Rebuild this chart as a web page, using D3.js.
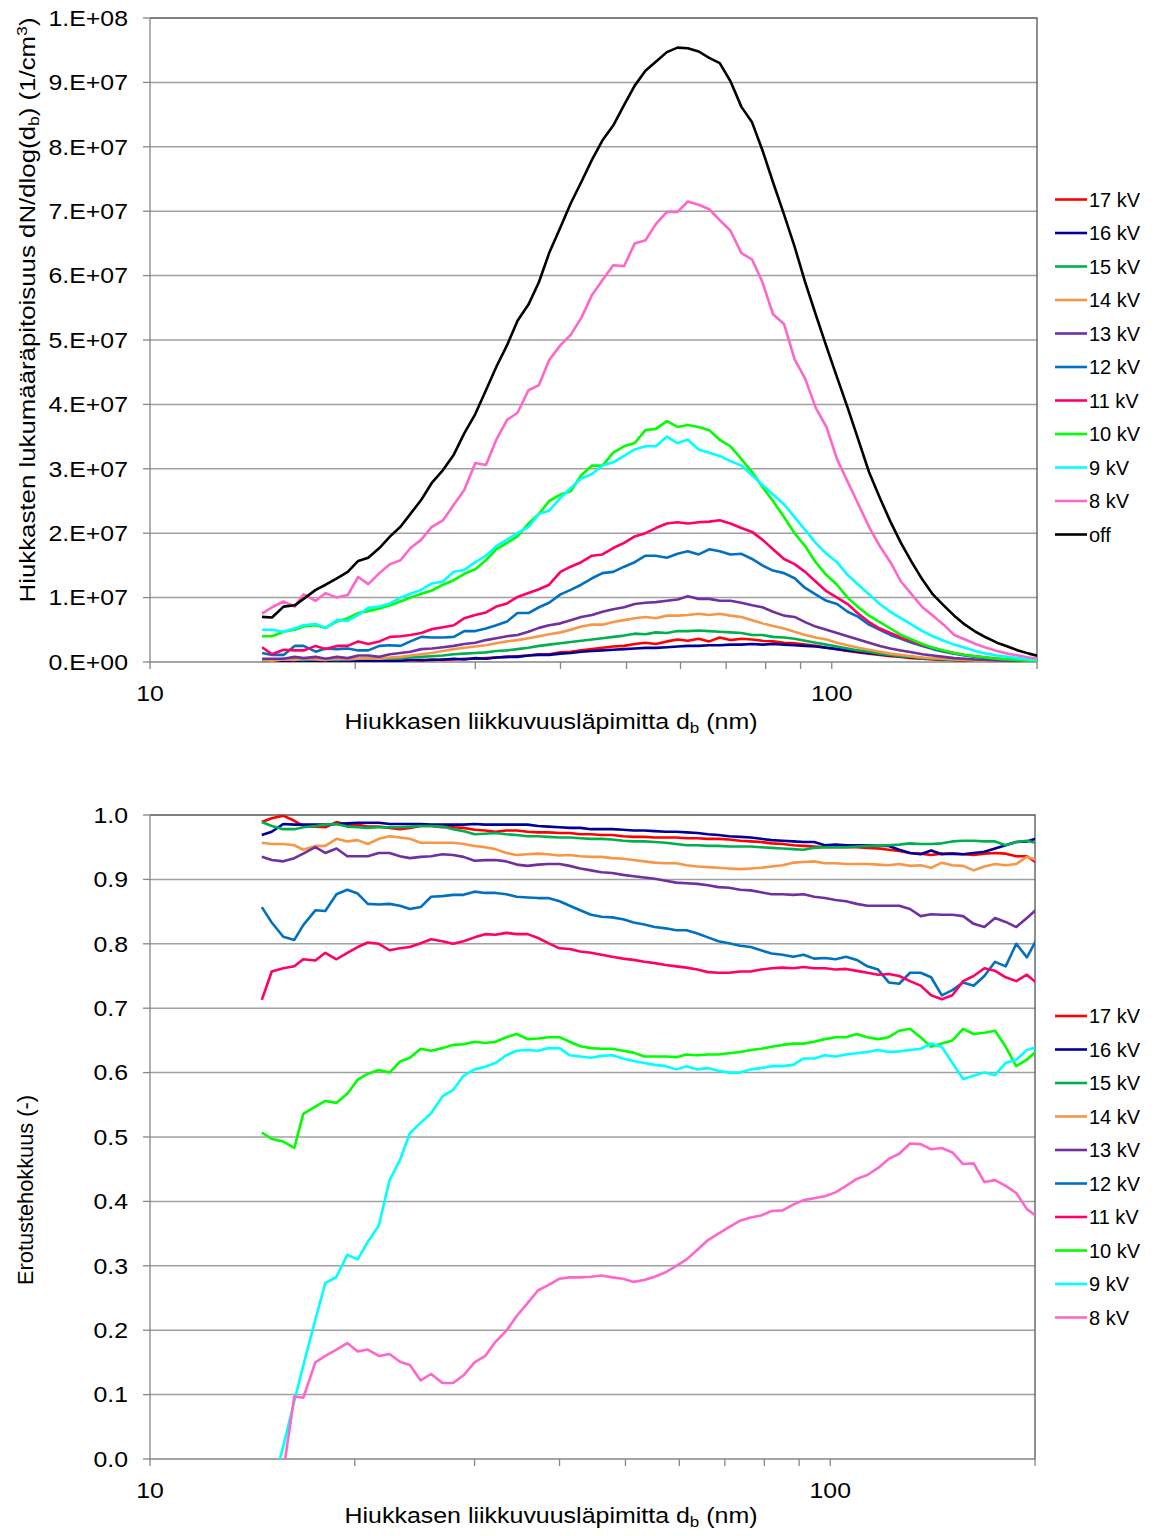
<!DOCTYPE html>
<html><head><meta charset="utf-8">
<script src="https://cdn.jsdelivr.net/npm/d3@7"></script>
<style>
body{margin:0;background:#fff}
text{font-family:"Liberation Sans",Arial,sans-serif;fill:#000}
</style>
</head><body>
<svg id="chart" width="1155" height="1536"></svg>
<script>
// ---------------- DATA ----------------
// SMPS channel mobility diameters (nm)
const diameters = [14.6,15.1,15.7,16.3,16.8,17.5,18.1,18.8,19.5,20.2,20.9,21.7,22.5,23.3,24.1,25.0,25.9,26.9,27.9,28.9,
30.0,31.1,32.2,33.4,34.6,35.9,37.2,38.5,40.0,41.4,42.9,44.5,46.1,47.8,49.6,51.4,53.3,55.2,57.3,59.4,
61.5,63.8,66.1,68.5,71.0,73.7,76.4,79.1,82.0,85.1,88.2,91.4,94.7,98.2,101.8,105.5,109.4,113.4,117.6,121.9,
126.3,131.0,135.8,140.7,145.9,151.2,156.8,162.5,168.5,174.7,181.1,187.7,194.6,201.7];

const concNames = ["17 kV","16 kV","15 kV","14 kV","13 kV","12 kV","11 kV","10 kV","9 kV","8 kV","off"];
const effNames  = ["17 kV","16 kV","15 kV","14 kV","13 kV","12 kV","11 kV","10 kV","9 kV","8 kV"];

// number concentration dN/dlog(db), in units of 1e7 1/cm3
const conc17 = [0.02,0.0,0.01,0.02,0.0,0.01,0.02,0.01,0.0,0.02,0.02,0.01,0.03,0.02,0.03,0.02,0.04,0.03,0.04,0.05,0.05,0.06,0.07,0.08,0.09,0.1,0.12,0.12,0.15,0.16,0.18,0.2,0.22,0.24,0.25,0.28,0.3,0.28,0.32,0.35,0.33,0.36,0.32,0.38,0.34,0.36,0.35,0.33,0.32,0.3,0.29,0.27,0.25,0.22,0.2,0.17,0.15,0.13,0.11,0.09,0.08,0.06,0.05,0.04,0.03,0.03,0.02,0.02,0.01,0.01,0.01,0.01,0.005,0.005];
const conc16 = [0.02,0.01,0.0,0.01,0.02,0.01,0.0,0.01,0.01,0.02,0.01,0.01,0.02,0.02,0.03,0.03,0.03,0.04,0.05,0.04,0.06,0.05,0.07,0.08,0.08,0.1,0.11,0.11,0.13,0.14,0.16,0.17,0.18,0.19,0.2,0.21,0.22,0.22,0.23,0.24,0.25,0.25,0.26,0.26,0.27,0.27,0.28,0.27,0.28,0.27,0.26,0.25,0.24,0.22,0.2,0.18,0.16,0.14,0.12,0.1,0.09,0.07,0.06,0.05,0.04,0.03,0.03,0.02,0.02,0.01,0.01,0.01,0.01,0.005];
const conc15 = [0.02,0.03,0.05,0.04,0.03,0.05,0.04,0.03,0.05,0.05,0.05,0.06,0.05,0.06,0.07,0.08,0.09,0.1,0.12,0.13,0.14,0.15,0.17,0.18,0.2,0.22,0.25,0.27,0.29,0.31,0.33,0.35,0.37,0.39,0.41,0.44,0.43,0.46,0.45,0.48,0.48,0.49,0.48,0.47,0.46,0.45,0.42,0.42,0.39,0.38,0.36,0.33,0.3,0.27,0.24,0.21,0.18,0.16,0.13,0.11,0.09,0.08,0.06,0.05,0.04,0.03,0.03,0.02,0.02,0.01,0.01,0.01,0.01,0.005];
const conc14 = [0.03,0.02,0.04,0.03,0.05,0.04,0.03,0.05,0.04,0.05,0.06,0.05,0.07,0.08,0.1,0.12,0.14,0.17,0.2,0.22,0.24,0.26,0.29,0.32,0.34,0.37,0.4,0.43,0.46,0.5,0.55,0.58,0.58,0.62,0.65,0.68,0.7,0.68,0.72,0.72,0.73,0.75,0.73,0.75,0.72,0.7,0.65,0.6,0.56,0.52,0.47,0.42,0.38,0.35,0.3,0.26,0.22,0.19,0.16,0.13,0.11,0.09,0.07,0.06,0.05,0.04,0.03,0.025,0.02,0.015,0.01,0.01,0.01,0.005];
const conc13 = [0.05,0.05,0.05,0.08,0.06,0.08,0.05,0.08,0.06,0.1,0.1,0.08,0.12,0.14,0.16,0.2,0.21,0.23,0.25,0.28,0.3,0.34,0.37,0.4,0.42,0.47,0.53,0.57,0.6,0.65,0.7,0.73,0.78,0.82,0.85,0.9,0.92,0.93,0.95,0.97,1.02,0.98,0.98,0.95,0.95,0.92,0.88,0.85,0.78,0.72,0.7,0.62,0.55,0.5,0.45,0.4,0.35,0.3,0.25,0.21,0.18,0.15,0.12,0.1,0.08,0.06,0.05,0.04,0.03,0.025,0.02,0.015,0.01,0.01];
const conc12 = [0.14,0.11,0.11,0.25,0.25,0.16,0.21,0.2,0.21,0.18,0.18,0.25,0.26,0.25,0.32,0.39,0.38,0.38,0.39,0.48,0.48,0.52,0.57,0.63,0.76,0.76,0.85,0.92,1.05,1.12,1.2,1.3,1.38,1.4,1.48,1.55,1.65,1.65,1.62,1.68,1.72,1.67,1.75,1.72,1.67,1.68,1.6,1.5,1.42,1.38,1.3,1.15,1.05,0.95,0.9,0.78,0.7,0.58,0.5,0.42,0.36,0.3,0.25,0.2,0.16,0.13,0.1,0.08,0.06,0.05,0.04,0.03,0.02,0.01];
const conc11 = [0.23,0.12,0.19,0.18,0.18,0.25,0.2,0.25,0.25,0.32,0.28,0.32,0.39,0.4,0.42,0.45,0.51,0.54,0.57,0.68,0.73,0.77,0.86,0.91,1.01,1.07,1.13,1.2,1.4,1.48,1.55,1.65,1.67,1.77,1.85,1.95,2.0,2.08,2.15,2.17,2.15,2.17,2.18,2.2,2.15,2.08,2.02,1.9,1.75,1.6,1.52,1.4,1.25,1.1,1.0,0.9,0.75,0.62,0.52,0.45,0.38,0.32,0.26,0.22,0.17,0.14,0.11,0.09,0.07,0.05,0.04,0.03,0.02,0.01];
const conc10 = [0.4,0.4,0.47,0.5,0.55,0.57,0.53,0.63,0.68,0.76,0.79,0.83,0.88,0.94,1.0,1.06,1.11,1.2,1.27,1.37,1.44,1.58,1.75,1.85,1.95,2.15,2.3,2.5,2.6,2.65,2.9,3.05,3.05,3.25,3.35,3.4,3.6,3.62,3.74,3.65,3.68,3.65,3.6,3.45,3.35,3.15,2.95,2.72,2.5,2.25,2.0,1.8,1.55,1.35,1.2,1.0,0.85,0.72,0.62,0.52,0.42,0.35,0.28,0.22,0.18,0.14,0.11,0.09,0.07,0.05,0.04,0.03,0.02,0.02];
const conc9  = [0.5,0.5,0.47,0.52,0.57,0.59,0.53,0.65,0.64,0.73,0.84,0.86,0.91,1.0,1.06,1.12,1.22,1.25,1.4,1.43,1.55,1.65,1.8,1.9,2.0,2.1,2.3,2.35,2.55,2.7,2.85,2.92,3.05,3.1,3.2,3.3,3.35,3.35,3.5,3.4,3.45,3.3,3.25,3.2,3.12,3.05,2.9,2.75,2.6,2.45,2.25,2.05,1.85,1.68,1.55,1.35,1.2,1.05,0.9,0.78,0.68,0.58,0.48,0.4,0.33,0.27,0.22,0.17,0.13,0.1,0.08,0.06,0.04,0.03];
const conc8  = [0.75,0.85,0.94,0.86,1.05,0.95,1.07,1.0,1.04,1.32,1.21,1.38,1.52,1.58,1.77,1.9,2.1,2.2,2.44,2.67,3.09,3.06,3.45,3.76,3.87,4.22,4.3,4.69,4.92,5.08,5.34,5.7,5.93,6.16,6.15,6.5,6.55,6.8,6.99,6.99,7.15,7.1,7.03,6.86,6.7,6.35,6.25,5.9,5.4,5.25,4.7,4.4,3.95,3.65,3.15,2.8,2.45,2.1,1.8,1.55,1.25,1.05,0.85,0.72,0.58,0.42,0.35,0.28,0.22,0.17,0.13,0.1,0.07,0.05];
const concOff = [0.7,0.69,0.86,0.88,0.98,1.12,1.2,1.3,1.4,1.57,1.62,1.77,1.95,2.1,2.3,2.52,2.78,2.98,3.22,3.55,3.85,4.22,4.58,4.92,5.3,5.55,5.9,6.35,6.75,7.12,7.45,7.8,8.1,8.33,8.65,8.95,9.18,9.32,9.47,9.54,9.53,9.48,9.38,9.3,9.02,8.62,8.38,7.95,7.45,6.95,6.45,5.9,5.4,4.9,4.42,3.95,3.45,2.95,2.55,2.18,1.85,1.55,1.28,1.05,0.88,0.72,0.58,0.47,0.38,0.3,0.24,0.18,0.13,0.09];

// separation efficiency (-)
const eff17 = [.989,.995,.999,.991,.983,.982,.981,.989,.985,.985,.982,.982,.98,.978,.98,.983,.983,.981,.981,.98,.977,.976,.974,.976,.976,.974,.973,.973,.972,.972,.97,.97,.969,.969,.967,.966,.966,.965,.965,.965,.964,.964,.963,.963,.962,.96,.959,.958,.956,.955,.953,.952,.951,.95,.95,.95,.95,.949,.948,.946,.944,.941,.94,.938,.94,.94,.939,.938,.94,.941,.94,.936,.936,.925];
const eff16 = [.969,.974,.986,.985,.985,.985,.985,.986,.987,.988,.988,.988,.986,.986,.986,.986,.985,.985,.985,.985,.986,.985,.985,.985,.985,.985,.983,.982,.981,.98,.98,.978,.978,.978,.977,.976,.976,.975,.974,.974,.973,.972,.97,.969,.967,.966,.965,.963,.961,.96,.959,.958,.958,.953,.954,.953,.953,.953,.952,.952,.946,.941,.939,.945,.939,.94,.939,.941,.943,.948,.953,.958,.959,.964];
const eff15 = [.989,.983,.978,.978,.981,.983,.985,.986,.982,.981,.98,.981,.981,.981,.982,.983,.983,.982,.978,.975,.97,.971,.972,.97,.969,.967,.967,.966,.965,.965,.964,.963,.963,.962,.96,.959,.959,.958,.957,.955,.953,.953,.952,.952,.951,.951,.951,.95,.949,.948,.947,.946,.949,.95,.95,.95,.951,.952,.952,.953,.954,.956,.955,.955,.956,.959,.96,.96,.959,.959,.953,.958,.96,.956];
const eff14 = [.957,.955,.955,.953,.946,.952,.952,.963,.959,.961,.955,.963,.967,.965,.963,.957,.957,.957,.957,.955,.952,.95,.947,.941,.938,.939,.94,.939,.937,.938,.936,.935,.935,.933,.932,.93,.928,.926,.925,.925,.922,.92,.919,.918,.917,.916,.917,.918,.92,.922,.926,.927,.928,.925,.925,.924,.924,.924,.923,.922,.924,.921,.922,.918,.926,.922,.921,.914,.92,.924,.922,.924,.935,.93];
const eff13 = [.935,.93,.928,.933,.94,.95,.941,.948,.936,.936,.936,.941,.941,.936,.933,.935,.936,.939,.938,.935,.929,.93,.93,.928,.923,.921,.923,.924,.924,.921,.917,.914,.911,.91,.907,.905,.903,.901,.898,.895,.894,.893,.891,.888,.887,.884,.883,.88,.877,.877,.876,.877,.873,.871,.868,.866,.862,.859,.859,.859,.859,.854,.843,.846,.845,.845,.843,.831,.826,.84,.834,.826,.84,.855];
const eff12 = [.857,.833,.811,.806,.829,.852,.851,.877,.884,.878,.862,.861,.862,.859,.854,.857,.873,.874,.876,.876,.881,.879,.879,.877,.873,.872,.871,.871,.866,.859,.852,.845,.842,.841,.838,.833,.83,.826,.824,.821,.821,.816,.81,.804,.801,.797,.795,.79,.785,.783,.78,.783,.777,.778,.776,.78,.775,.765,.76,.74,.738,.755,.755,.748,.72,.728,.74,.735,.75,.772,.765,.8,.779,.809];
const eff11 = [.713,.757,.762,.765,.776,.774,.786,.776,.786,.795,.802,.8,.79,.793,.795,.801,.807,.804,.8,.804,.81,.815,.814,.817,.815,.815,.809,.801,.793,.792,.788,.786,.783,.78,.777,.775,.772,.77,.767,.765,.763,.76,.756,.755,.755,.757,.757,.76,.762,.763,.762,.764,.762,.762,.76,.761,.758,.755,.752,.753,.75,.742,.735,.72,.714,.72,.742,.75,.762,.758,.748,.742,.752,.738];
const eff10 = [.507,.497,.493,.483,.536,.547,.556,.553,.567,.589,.598,.604,.6,.617,.623,.637,.634,.638,.643,.644,.648,.646,.648,.655,.66,.652,.653,.655,.655,.648,.641,.638,.637,.637,.634,.631,.625,.625,.625,.624,.628,.627,.628,.628,.63,.632,.635,.637,.64,.643,.645,.645,.648,.652,.655,.655,.66,.655,.652,.655,.665,.668,.655,.64,.645,.65,.668,.66,.662,.665,.64,.61,.62,.635];
const eff9  = [-.15,-.05,.02,.09,.145,.216,.273,.283,.317,.31,.337,.363,.433,.464,.506,.522,.537,.563,.573,.595,.605,.609,.615,.627,.634,.635,.634,.638,.638,.627,.625,.623,.626,.627,.622,.618,.615,.612,.61,.605,.61,.605,.607,.603,.6,.6,.605,.607,.61,.61,.612,.622,.622,.627,.625,.628,.63,.632,.635,.632,.633,.635,.637,.645,.64,.615,.59,.595,.6,.596,.615,.62,.635,.64];
const eff8  = [-.3,-.15,-.02,.097,.095,.15,.16,.17,.18,.167,.17,.16,.163,.151,.146,.122,.132,.118,.118,.13,.15,.16,.182,.199,.222,.242,.262,.27,.28,.282,.282,.283,.285,.282,.28,.275,.278,.283,.29,.3,.31,.325,.34,.35,.36,.37,.375,.378,.385,.386,.395,.402,.405,.408,.414,.424,.435,.441,.452,.466,.474,.49,.489,.481,.483,.476,.458,.459,.43,.433,.424,.413,.388,.376];

const concTickLabels = ["0.E+00","1.E+07","2.E+07","3.E+07","4.E+07","5.E+07","6.E+07","7.E+07","8.E+07","9.E+07","1.E+08"];
const effTickLabels = ["0.0","0.1","0.2","0.3","0.4","0.5","0.6","0.7","0.8","0.9","1.0"];
const xTickLabels = ["10","100"];

// ---------------- STYLE ----------------
const seriesColors = {"17 kV":"#FF0000","16 kV":"#000099","15 kV":"#00B050","14 kV":"#F79646","13 kV":"#7030A0",
  "12 kV":"#0070C0","11 kV":"#FF0066","10 kV":"#00FF00","9 kV":"#00FFFF","8 kV":"#FF66CC","off":"#000000"};
const SX = 1.13; // horizontal glyph stretch of the reference

const svg = d3.select("#chart");

function stretchedText(g, x, y, str, anchor, size){
  return g.append("text")
    .attr("transform",`translate(${x},${y}) scale(${SX},1)`)
    .attr("text-anchor",anchor).attr("dy","0.35em")
    .style("font-size",size+"px").text(str);
}

function panel(cfg){
  const g = svg.append("g");
  const x = d3.scaleLog().domain([10,200]).range([cfg.left,cfg.right]);
  const y = d3.scaleLinear().domain([0,cfg.ymax]).range([cfg.bottom,cfg.top]);
  const clipId = "clip"+cfg.id;
  svg.append("clipPath").attr("id",clipId).append("rect")
    .attr("x",cfg.left).attr("y",cfg.top).attr("width",cfg.right-cfg.left).attr("height",cfg.bottom-cfg.top);

  // gridlines
  const yt = d3.range(0,11).map(i=>i*cfg.ymax/10);
  g.selectAll(".grid").data(yt.slice(1,-1)).join("line")
    .attr("x1",cfg.left).attr("x2",cfg.right).attr("y1",d=>y(d)).attr("y2",d=>y(d))
    .attr("stroke","#a0a0a0").attr("stroke-width",1.5);
  // plot border top/right
  g.append("path").attr("d",`M${cfg.left},${cfg.top}H${cfg.right}V${cfg.bottom}`)
    .attr("fill","none").attr("stroke","#555").attr("stroke-width",1.3);
  // y axis
  g.append("line").attr("x1",cfg.left).attr("x2",cfg.left).attr("y1",cfg.top).attr("y2",cfg.bottom)
    .attr("stroke","#868686").attr("stroke-width",1.3);
  g.selectAll(".yt").data(yt).join("line")
    .attr("x1",cfg.left-7).attr("x2",cfg.left).attr("y1",d=>y(d)).attr("y2",d=>y(d))
    .attr("stroke","#868686").attr("stroke-width",1.3);
  yt.forEach((v,i)=> stretchedText(g, cfg.left-22, y(v), cfg.yLabels[i], "end", 22));
  // x axis
  g.append("line").attr("x1",cfg.left).attr("x2",cfg.right).attr("y1",cfg.bottom).attr("y2",cfg.bottom)
    .attr("stroke","#868686").attr("stroke-width",1.3);
  g.selectAll(".xt").data(x.ticks()).join("line")
    .attr("x1",d=>x(d)).attr("x2",d=>x(d)).attr("y1",cfg.bottom).attr("y2",cfg.bottom+7)
    .attr("stroke","#868686").attr("stroke-width",1.3);
  [10,100].forEach((v,i)=> stretchedText(g, x(v), cfg.bottom+31, xTickLabels[i], "middle", 22));

  // x title
  const xt = g.append("text").attr("x",cfg.xTitleX).attr("y",cfg.bottom+cfg.xTitleDy)
    .attr("text-anchor","middle").style("font-size","22px")
    .attr("textLength",413).attr("lengthAdjust","spacingAndGlyphs");
  xt.append("tspan").text("Hiukkasen liikkuvuusläpimitta d");
  xt.append("tspan").attr("dy",4).style("font-size","15px").text("b");
  xt.append("tspan").attr("dy",-4).text(" (nm)");

  // y title
  const ytt = g.append("text")
    .attr("transform",`translate(${cfg.yTitleX},${cfg.yTitleY}) rotate(-90)`)
    .attr("text-anchor","middle").style("font-size","22px")
    .attr("textLength",cfg.yTitleLen).attr("lengthAdjust","spacingAndGlyphs");
  cfg.yTitle(ytt);

  // series
  const line = d3.line().x((d,i)=>x(diameters[i])).y(d=>y(d*cfg.unit));
  const lg = g.append("g").attr("clip-path",`url(#${clipId})`);
  cfg.series.forEach(s=>{
    lg.append("path").datum(s.values).attr("d",line)
      .attr("fill","none").attr("stroke",seriesColors[s.name]).attr("stroke-width",2.6)
      .attr("stroke-linejoin","round");
  });

  // legend
  cfg.series.forEach((s,i)=>{
    const ly = cfg.legendY + i*33.5;
    g.append("line").attr("x1",1055).attr("x2",1087).attr("y1",ly).attr("y2",ly)
      .attr("stroke",seriesColors[s.name]).attr("stroke-width",2.6);
    g.append("text").attr("x",1089).attr("y",ly).attr("dy","0.35em")
      .style("font-size","20px").text(s.name);
  });
}

const concSeries = [conc17,conc16,conc15,conc14,conc13,conc12,conc11,conc10,conc9,conc8,concOff]
  .map((v,i)=>({name:concNames[i], values:v}));
const effSeries = [eff17,eff16,eff15,eff14,eff13,eff12,eff11,eff10,eff9,eff8]
  .map((v,i)=>({name:effNames[i], values:v}));

panel({id:1,left:150,right:1037,top:18,bottom:662,ymax:1e8,unit:1e7,yLabels:concTickLabels,
  series:concSeries,legendY:199.5,xTitleX:551,xTitleDy:67,yTitleX:35,yTitleY:310,yTitleLen:585,
  yTitle:t=>{
    t.append("tspan").text("Hiukkasten lukumääräpitoisuus dN/dlog(d");
    t.append("tspan").attr("dy",4).style("font-size","15px").text("b");
    t.append("tspan").attr("dy",-4).text(") (1/cm");
    t.append("tspan").attr("dy",-8).style("font-size","15px").text("3");
    t.append("tspan").attr("dy",8).text(")");
  }});

panel({id:2,left:150,right:1035,top:815,bottom:1459,ymax:1,unit:1,yLabels:effTickLabels,
  series:effSeries,legendY:1016,xTitleX:551,xTitleDy:64,yTitleX:33,yTitleY:1190,yTitleLen:190,
  yTitle:t=>{ t.text("Erotustehokkuus (-)"); }});
</script>
</body></html>
